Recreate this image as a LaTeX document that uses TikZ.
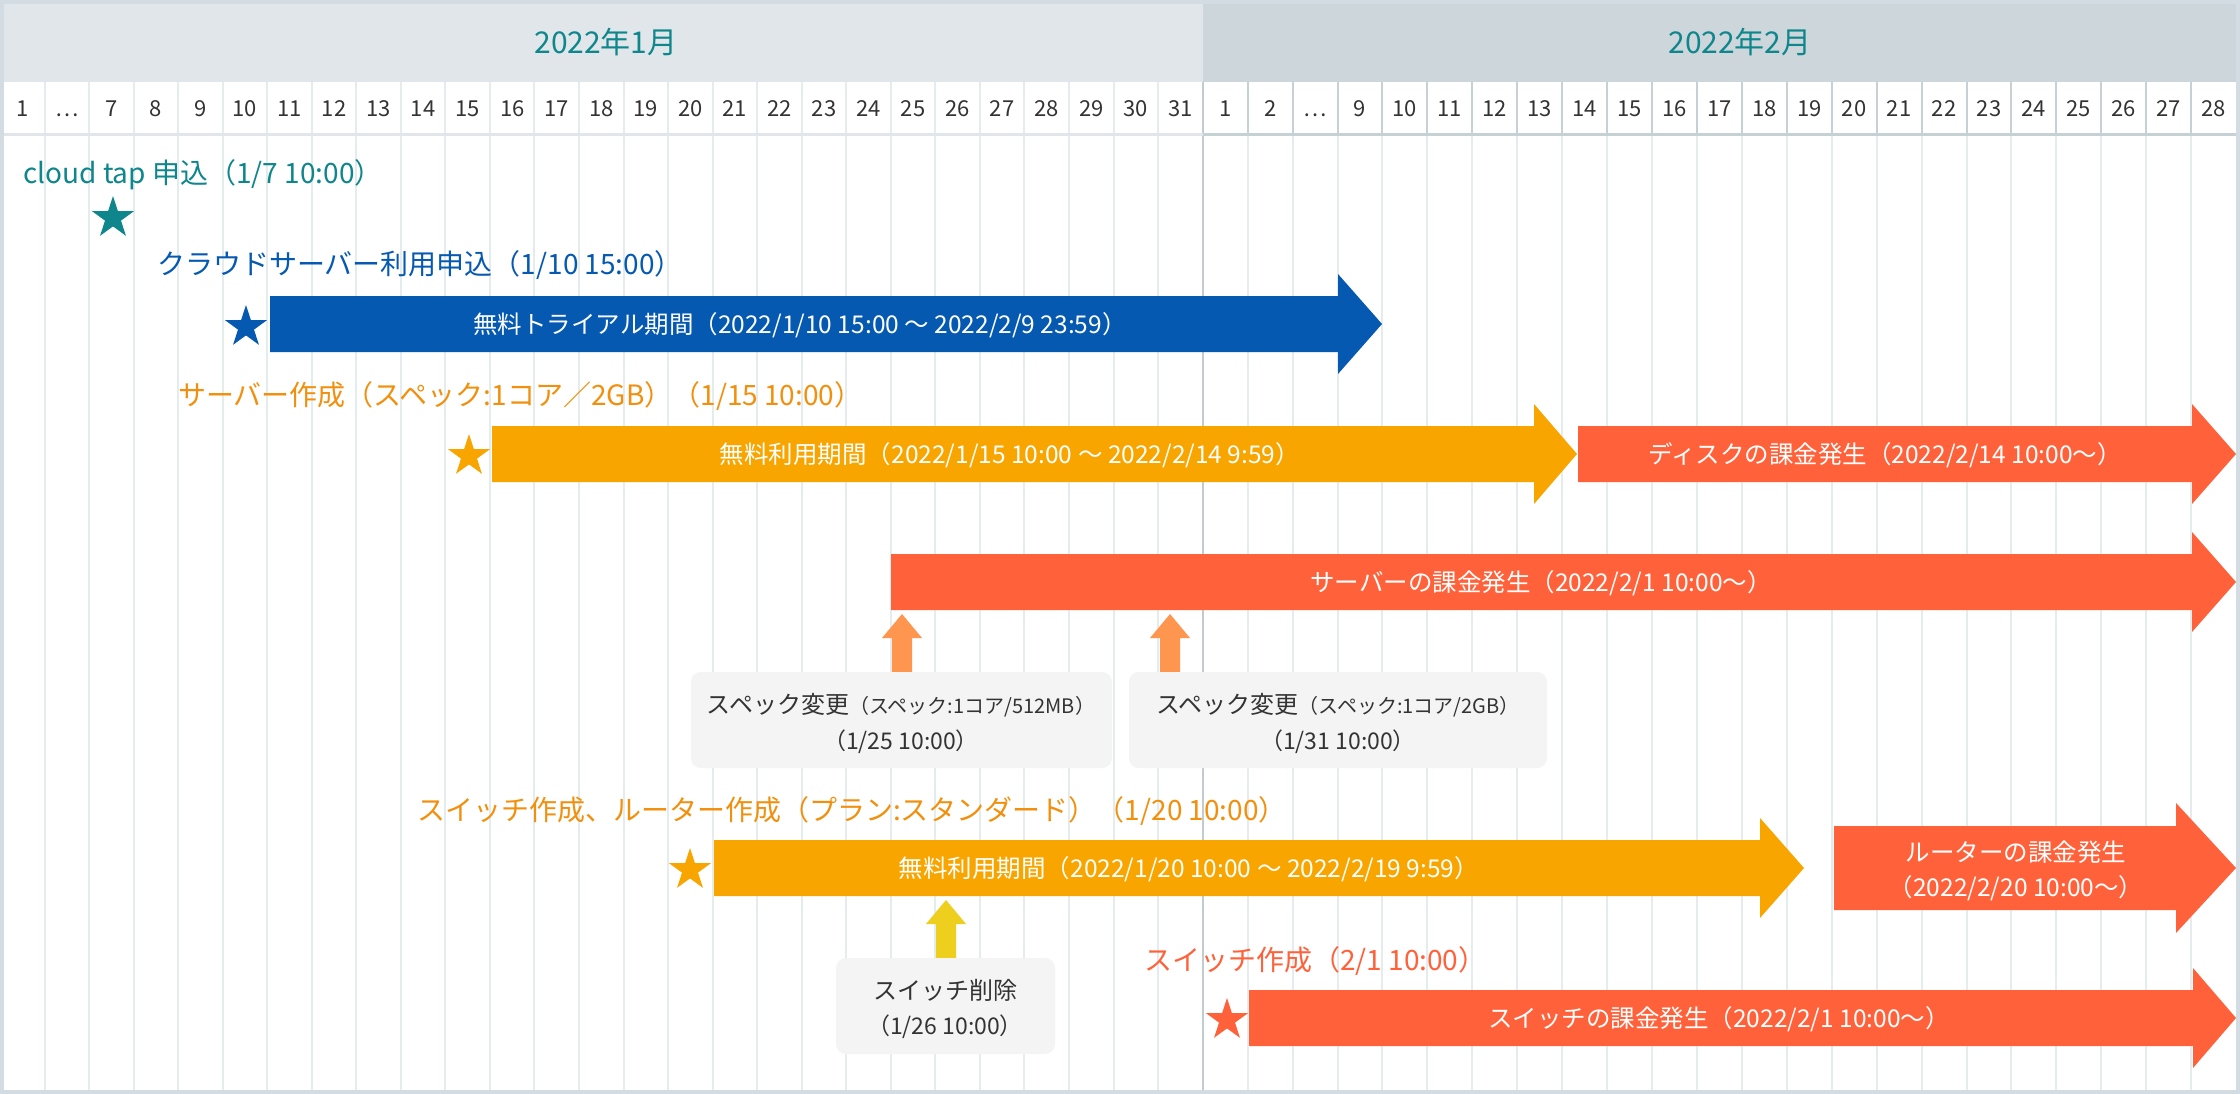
\documentclass[tikz,border=0pt]{standalone}
\usepackage{fontspec}
\setmainfont{Noto Sans CJK JP}
\usetikzlibrary{shapes.geometric}
\definecolor{cframe}{HTML}{D3DCE2}
\definecolor{chjan}{HTML}{E0E6E9}
\definecolor{chfeb}{HTML}{CDD7DB}
\definecolor{cgrid}{HTML}{E5ECEE}
\definecolor{cgridd}{HTML}{C6D1D5}
\definecolor{cgridm}{HTML}{C2CCD0}
\definecolor{cteal}{HTML}{0E868C}
\definecolor{cblue}{HTML}{0559B1}
\definecolor{corange}{HTML}{F8A500}
\definecolor{corangetxt}{HTML}{F2900E}
\definecolor{cred}{HTML}{FF623A}
\definecolor{csmall}{HTML}{FF9650}
\definecolor{cyel}{HTML}{EFCF1E}
\definecolor{cbox}{HTML}{F4F4F4}
\definecolor{ctext}{HTML}{333333}
\newcommand{\fsz}[1]{\fontsize{#1}{#1}\selectfont}
% name, color, xstart, ytop, ybottom, xbase, xtip, head extension
\newcommand{\garrow}[8]{%
  \fill[#2] (#3,#4) -- (#6,#4) -- (#6,#4-#8) -- (#7,{(#4+#5)/2}) -- (#6,#5+#8) -- (#6,#5) -- (#3,#5) -- cycle;
  \coordinate (#1) at ({(#3+#6)/2},{(#4+#5)/2});}
% name, color, cx, ytip, ybase, ybottom
\newcommand{\uparw}[6]{%
  \fill[#2] (#3,#4) -- (#3+20,#5) -- (#3+10,#5) -- (#3+10,#6) -- (#3-10,#6) -- (#3-10,#5) -- (#3-20,#5) -- cycle;
  \coordinate (#1) at (#3,#4);}
\begin{document}
\begin{tikzpicture}[x=1pt,y=-1pt,
  lbl/.style={anchor=west,inner sep=0pt,text height=24.64pt,text depth=3.36pt,font=\fsz{28}},
  wtxt/.style={text=white,inner sep=0pt,text height=21.56pt,text depth=2.94pt,font=\fsz{24.5}},
  btxt/.style={text=ctext,inner sep=0pt,text height=21.12pt,text depth=2.88pt,font=\fsz{24}},
  daylbl/.style={text=ctext,inner sep=0pt,text height=19.36pt,text depth=2.64pt,font=\fsz{22}},
  mlbl/.style={text=cteal,inner sep=0pt,text height=26.4pt,text depth=3.6pt,font=\fsz{30}},
  mstar/.style={star,star points=5,star point ratio=2.618,minimum size=44pt,inner sep=0pt,fill=#1,draw=none},
  cbx/.style={fill=cbox,rounded corners=10pt},
  gridl/.style={draw=cgrid,line width=2pt},
  gridd/.style={draw=cgridd,line width=2pt}]
\useasboundingbox (0,0) rectangle (2240,1094);
% frame and background
\fill[cframe] (0,0) rectangle (2240,1094);
\fill[white] (4,4) rectangle (2236,1090);
\fill[chjan] (4,4) rectangle (1202.7,82);
\fill[chfeb] (1202.7,4) rectangle (2236,82);
% grid
\foreach \k in {1,...,26} \draw[gridl] ({\k*44.54},82) -- ({\k*44.54},1090);
\foreach \k in {1,...,22} \draw[gridl] ({1202.7+\k*44.93},136) -- ({1202.7+\k*44.93},1090);
\foreach \k in {1,...,22} \draw[gridd] ({1202.7+\k*44.93},82) -- ({1202.7+\k*44.93},134);
\draw[draw=cgridm,line width=2pt] (1202.7,82) -- (1202.7,1090);
\draw[draw=chjan,line width=3pt] (4,134.5) -- (1202.7,134.5);
\draw[draw=cgridd,line width=3pt] (1202.7,134.5) -- (2236,134.5);
% month labels
\node[mlbl] (mjan) at (606,42) {2022年1月};
\node[mlbl] (mfeb) at (1740,42) {2022年2月};
% day labels
\foreach \d [count=\i from 0] in {1,…,7,8,9,10,11,12,13,14,15,16,17,18,19,20,21,22,23,24,25,26,27,28,29,30,31}
  \node[daylbl] (dj\i) at ({(\i+0.5)*44.54},108) {\d};
\foreach \d [count=\i from 0] in {1,2,…,9,10,11,12,13,14,15,16,17,18,19,20,21,22,23,24,25,26,27,28}
  \node[daylbl] (df\i) at ({1202.7+(\i+0.5)*44.93},108) {\d};
% 1 cloud tap
\node[lbl,text=cteal] (l1) at (23,173) {cloud tap 申込（1/7 10:00）};
\node[mstar=cteal] (s1) at (113,218) {};
% 2 cloud server
\node[lbl,text=cblue] (l2) at (157,264) {クラウドサーバー利用申込（1/10 15:00）};
\node[mstar=cblue] (s2) at (246,327) {};
\garrow{a2}{cblue}{270}{296}{352}{1338}{1382}{22}
\node[wtxt] (t2) at (800,324) {無料トライアル期間（2022/1/10 15:00 〜 2022/2/9 23:59）};
% 3 server
\node[lbl,text=corangetxt] (l3) at (178,395) {サーバー作成（スペック:1コア／2GB）（1/15 10:00）};
\node[mstar=corange] (s3) at (469,456) {};
\garrow{a3}{corange}{492}{426}{482}{1534}{1577}{22}
\node[wtxt] (t3) at (1010,454) {無料利用期間（2022/1/15 10:00 〜 2022/2/14 9:59）};
\garrow{a4}{cred}{1578}{426}{482}{2192}{2236}{22}
\node[wtxt] (t4) at (1885,454) {ディスクの課金発生（2022/2/14 10:00〜）};
% 4 server billing
\garrow{a5}{cred}{891}{554}{610}{2192}{2236}{22}
\node[wtxt] (t5) at (1541,582) {サーバーの課金発生（2022/2/1 10:00〜）};
\uparw{u1}{csmall}{902}{614}{638}{672}
\uparw{u2}{csmall}{1170}{614}{638}{672}
\fill[cbx] (691,672) rectangle (1112,768);
\node[btxt] (b1a) at (901,704) {スペック変更{\fsz{20}（スペック:1コア/512MB）}};
\node[btxt,font=\fsz{23}] (b1b) at (901,740) {（1/25 10:00）};
\fill[cbx] (1129,672) rectangle (1547,768);
\node[btxt] (b2a) at (1338,704) {スペック変更{\fsz{20}（スペック:1コア/2GB）}};
\node[btxt,font=\fsz{23}] (b2b) at (1338,740) {（1/31 10:00）};
% 5 switch & router
\node[lbl,text=corangetxt] (l6) at (417,810) {スイッチ作成、ルーター作成（プラン:スタンダード）（1/20 10:00）};
\node[mstar=corange] (s6) at (690,870) {};
\garrow{a6}{corange}{714}{840}{896}{1760}{1804}{22}
\node[wtxt] (t6) at (1189,868) {無料利用期間（2022/1/20 10:00 〜 2022/2/19 9:59）};
\garrow{a7}{cred}{1834}{826}{910}{2176}{2236}{23}
\node[wtxt] (t7a) at (2016,852) {ルーターの課金発生};
\node[wtxt] (t7b) at (2016,887) {（2022/2/20 10:00〜）};
\uparw{u3}{cyel}{946}{900}{924}{958}
\fill[cbx] (836,958) rectangle (1055,1054);
\node[btxt] (b3a) at (945,990) {スイッチ削除};
\node[btxt,font=\fsz{23}] (b3b) at (945,1025) {（1/26 10:00）};
% 6 switch
\node[lbl,text=cred] (l8) at (1144,960) {スイッチ作成（2/1 10:00）};
\node[mstar=cred] (s8) at (1227,1020) {};
\garrow{a8}{cred}{1249}{990}{1046}{2193}{2236}{22}
\node[wtxt] (t8) at (1719,1018) {スイッチの課金発生（2022/2/1 10:00〜）};
\end{tikzpicture}
\end{document}
